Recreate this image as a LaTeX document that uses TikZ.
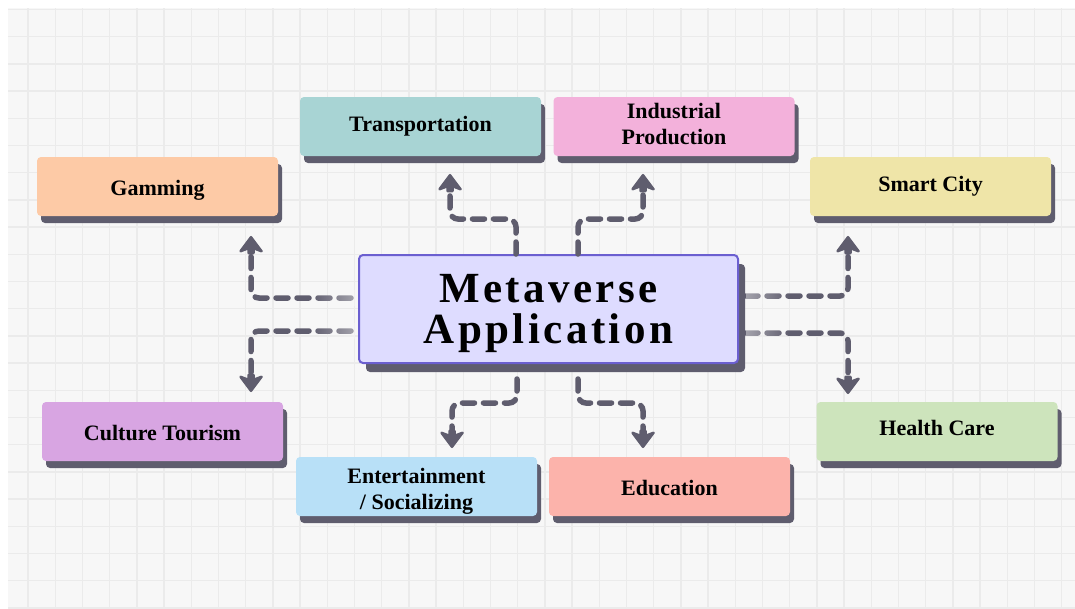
\documentclass[tikz,border=0pt]{standalone}
\usepackage{fontspec}
\setmainfont{Liberation Serif}
\newfontfamily\titlefont[LetterSpace=8]{Liberation Serif}
\usetikzlibrary{shadows,calc,fadings}
\definecolor{gridc}{HTML}{EBEBEB}
\definecolor{bgc}{HTML}{F7F7F7}
\definecolor{shadc}{HTML}{5F5D6E}
\definecolor{linec}{HTML}{5F5D6E}
\definecolor{cGam}{HTML}{FDCAA6}
\definecolor{cTra}{HTML}{A8D4D4}
\definecolor{cInd}{HTML}{F3B1DB}
\definecolor{cSma}{HTML}{EFE5A8}
\definecolor{cHea}{HTML}{CDE4BC}
\definecolor{cCul}{HTML}{D8A5E2}
\definecolor{cEnt}{HTML}{B8E0F7}
\definecolor{cEdu}{HTML}{FCB3AB}
\definecolor{cCen}{HTML}{DEDCFF}
\definecolor{cCenB}{HTML}{6B5FD0}
\newcommand{\twolines}[2]{\begin{tabular}[t]{@{}c@{}}#1\\#2\end{tabular}}
\tikzset{
  appbox/.style={rectangle, rounded corners=4pt, minimum width=241pt, minimum height=59pt,
    inner sep=0pt, drop shadow={shadow xshift=4pt, shadow yshift=-7pt, fill=shadc, opacity=1}},
  lab/.style={inner sep=0pt, anchor=base, font=\fontsize{22}{26}\selectfont\bfseries},
  conn/.style={draw=linec, line width=5.5pt, dash pattern=on 12pt off 9pt, rounded corners=8pt,
    line cap=round},
  pics/tipup/.style={code={
    \filldraw[linec, line width=2.5pt, line join=round, solid]
      (0,0) -- (10.5,14) -- (2.5,11) -- (2.5,16) -- (-2.5,16) -- (-2.5,11) -- (-10.5,14) -- cycle;}},
  pics/tipdown/.style={code={
    \filldraw[linec, line width=2.5pt, line join=round, solid]
      (0,0) -- (10.5,-14) -- (2.5,-11) -- (2.5,-16) -- (-2.5,-16) -- (-2.5,-11) -- (-10.5,-14) -- cycle;}},
}
\begin{document}
\begin{tikzpicture}[x=1pt,y=-1pt]
\useasboundingbox (0,0) rectangle (1075,608);
\fill[white] (0,0) rectangle (1075,608);
\fill[bgc] (8,8) rectangle (1075,608);
\begin{scope}
\clip (8,8) rectangle (1075,608);
\foreach \i in {1,...,39} {\draw[gridc, line width=1.5pt] (0.9+27.2*\i,8) -- (0.9+27.2*\i,608);}
\foreach \j in {0,...,22} {\draw[gridc, line width=1.5pt] (8,9.5+27.2*\j) -- (1075,9.5+27.2*\j);}
\end{scope}

% boxes
\node[appbox, fill=cGam] (gam) at (157.5,186.5) {};
\node[appbox, fill=cTra] (tra) at (420.5,126.5) {};
\node[appbox, fill=cInd] (ind) at (674,126.5) {};
\node[appbox, fill=cSma] (sma) at (930.5,186.5) {};
\node[appbox, fill=cHea] (hea) at (937,431.5) {};
\node[appbox, fill=cCul] (cul) at (162.5,431.5) {};
\node[appbox, fill=cEnt] (ent) at (416.5,486.5) {};
\node[appbox, fill=cEdu] (edu) at (669.5,486.5) {};

% labels (placed by their baselines)
\node[lab] (gamL) at (gam.center |- 0,195) {Gamming};
\node[lab] (traL) at (tra.center |- 0,131) {Transportation};
\node[lab] (indL) at (ind.center |- 0,118.5) {\twolines{Industrial}{Production}};
\node[lab] (smaL) at (sma.center |- 0,191.5) {Smart City};
\node[lab] (heaL) at (hea.center |- 0,435) {Health Care};
\node[lab] (culL) at (cul.center |- 0,440.5) {Culture Tourism};
\node[lab] (entL) at (ent.center |- 0,483) {\twolines{Entertainment}{/ Socializing}};
\node[lab] (eduL) at (edu.center |- 0,495.5) {Education};

% centre
\node[rectangle, rounded corners=4pt, minimum width=379pt, minimum height=108pt, inner sep=0pt,
  fill=cCen, draw=cCenB, line width=2pt,
  drop shadow={shadow xshift=7pt, shadow yshift=-9pt, fill=shadc, opacity=1}] (cen) at (548.5,309) {};
\node[inner sep=0pt, anchor=base, font=\titlefont\fontsize{43}{38}\selectfont\bfseries]
  (title) at (cen.center |- 0,302) {\twolines{Metaverse}{Application}};

% apex points of the arrow tips
\coordinate (gT) at ([yshift=-21pt]gam.south -| 251,0);
\coordinate (cT) at ([yshift=11pt]cul.north -| 251,0);
\coordinate (sT) at ([yshift=-21pt]sma.south -| 848,0);
\coordinate (hT) at ([yshift=9pt]hea.north -| 848,0);
\coordinate (tT) at ([yshift=-19pt]tra.south -| 450,0);
\coordinate (iT) at ([yshift=-19pt]ind.south -| 643,0);
\coordinate (eT) at ([yshift=10pt]ent.north -| 452,0);
\coordinate (dT) at ([yshift=10pt]edu.north -| 643,0);

% left
\draw[conn] ([xshift=-7pt]cen.west |- 0,298) -- (251,298) -- ([yshift=-14pt]gT);
\pic at (gT) {tipup};
\draw[conn] ([xshift=-7pt]cen.west |- 0,331) -- (251,331) -- ([yshift=14pt]cT);
\pic at (cT) {tipdown};
% right
\draw[conn] ([xshift=7pt]cen.east |- 0,296) -- (848,296) -- ([yshift=-14pt]sT);
\pic at (sT) {tipup};
\draw[conn] ([xshift=7pt]cen.east |- 0,333) -- (848,333) -- ([yshift=14pt]hT);
\pic at (hT) {tipdown};
% top
\draw[conn] (cen.north -| 516,0) -- (516,219) -- (450,219) -- ([yshift=-14pt]tT);
\pic at (tT) {tipup};
\draw[conn] (cen.north -| 578,0) -- (578,219) -- (643,219) -- ([yshift=-14pt]iT);
\pic at (iT) {tipup};
% bottom
\draw[conn] ([yshift=-15pt]cen.south -| 517,0) -- (517,403) -- (452,403) -- ([yshift=14pt]eT);
\pic at (eT) {tipdown};
\draw[conn] ([yshift=-15pt]cen.south -| 578,0) -- (578,403) -- (643,403) -- ([yshift=14pt]dT);
\pic at (dT) {tipdown};

% faded, sketchy starts next to the centre box
\fill[bgc, fill opacity=0.45, path fading=west] (310,290) rectangle (355,306);
\fill[bgc, fill opacity=0.45, path fading=west] (310,323) rectangle (355,339);
\fill[bgc, fill opacity=0.45, path fading=east] (746,288) rectangle (790,304);
\fill[bgc, fill opacity=0.45, path fading=east] (746,325) rectangle (790,341);
\end{tikzpicture}
\end{document}
